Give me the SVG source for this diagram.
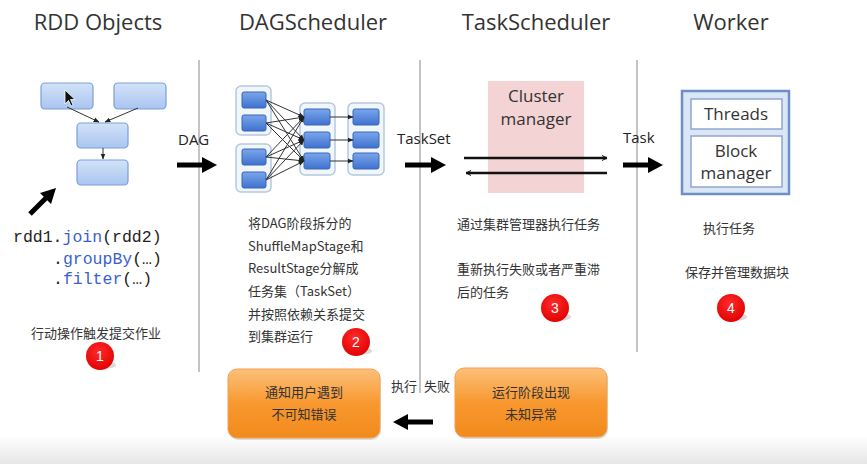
<svg xmlns="http://www.w3.org/2000/svg" width="867" height="464" viewBox="0 0 867 464">
<defs>
<linearGradient id="bg" x1="0" y1="0" x2="0" y2="1"><stop offset="0" stop-color="#ffffff"/><stop offset="1" stop-color="#e6e6e6"/></linearGradient>
<linearGradient id="lb" x1="0" y1="0" x2="0" y2="1"><stop offset="0" stop-color="#d3e2f8"/><stop offset="1" stop-color="#a9c5f0"/></linearGradient>
<linearGradient id="db" x1="0" y1="0" x2="0" y2="1"><stop offset="0" stop-color="#7aa6ea"/><stop offset="1" stop-color="#3f72cf"/></linearGradient>
<linearGradient id="og" x1="0" y1="0" x2="0" y2="1"><stop offset="0" stop-color="#fcc07a"/><stop offset="0.5" stop-color="#f8982f"/><stop offset="1" stop-color="#f28a1c"/></linearGradient>
<radialGradient id="rg" cx="0.45" cy="0.35" r="0.7"><stop offset="0" stop-color="#ff2a2a"/><stop offset="1" stop-color="#e00000"/></radialGradient>
<marker id="sa" viewBox="0 0 10 10" refX="9" refY="5" markerWidth="6" markerHeight="6" orient="auto"><path d="M0,1 L10,5 L0,9 z" fill="#222"/></marker>
<marker id="oa" viewBox="0 0 12 12" refX="11" refY="6" markerWidth="6" markerHeight="6" markerUnits="userSpaceOnUse" orient="auto"><path d="M1,1 L11,6 L1,11" fill="none" stroke="#111" stroke-width="2"/></marker>
</defs>
<style>
.title{font-family:"Open Sans","Noto Sans",sans-serif;font-size:22px;fill:#333;text-anchor:middle}
.lbl{font-family:"Open Sans","Noto Sans",sans-serif;font-size:15px;fill:#222}
.cn{font-family:"Noto Sans CJK SC","Noto Sans",sans-serif;font-size:13px;fill:#333}
.cnm{font-family:"Noto Sans CJK SC","Noto Sans",sans-serif;font-size:13px;fill:#333;text-anchor:middle}
.code{font-family:"Liberation Mono","DejaVu Sans Mono",monospace;font-size:16.5px;fill:#222}
.kw{fill:#3b5fcf}
.big{font-family:"Open Sans","Noto Sans",sans-serif;font-size:17px;fill:#333;text-anchor:middle}
.vline{stroke:#c4c4c4;stroke-width:2}
.thick{stroke:#000;stroke-width:5;fill:none}
.lbox{fill:url(#lb);stroke:#7a9fd8;stroke-width:1.2}
.dbox{fill:url(#db);stroke:#3a67b8;stroke-width:1}
.grp{fill:#f1f6fb;stroke:#b5c9de;stroke-width:1.5}
.wire{stroke:#333;stroke-width:1}
.num{font-family:"Liberation Sans",Arial,sans-serif;font-size:14px;fill:#fff;text-anchor:middle}
.orange{fill:url(#og);stroke:#f0a050;stroke-width:1}
</style>
<rect x="0" y="0" width="867" height="464" fill="#fff"/>
<rect x="0" y="436" width="867" height="28" fill="url(#bg)"/>

<g id="dividers">
<line class="vline" x1="199" y1="60" x2="199" y2="372"/>
<line class="vline" x1="420" y1="60" x2="420" y2="393"/>
<line class="vline" x1="637" y1="60" x2="637" y2="352"/>
</g>

<g id="titles">
<text class="title" x="98" y="30">RDD Objects</text>
<text class="title" x="313" y="30">DAGScheduler</text>
<text class="title" x="536" y="30">TaskScheduler</text>
<text class="title" x="731" y="30">Worker</text>
</g>

<g id="rdd-objects">
<rect class="lbox" x="41" y="83" width="52" height="26" rx="4"/>
<rect class="lbox" x="114" y="83" width="52" height="26" rx="4"/>
<rect class="lbox" x="77" y="123" width="51" height="25" rx="4"/>
<rect class="lbox" x="77" y="160" width="51" height="25" rx="4"/>
<path d="M65,90 L65,104 L68.5,100.5 L71,106 L73,105 L70.5,99.5 L75,99.5 z" fill="#111" stroke="#fff" stroke-width="0.8"/>
</g>

<g id="rdd-code">
<text class="code" x="13" y="242">rdd1.<tspan class="kw">join</tspan>(rdd2)</text>
<text class="code" x="53" y="264">.<tspan class="kw">groupBy</tspan>(…)</text>
<text class="code" x="53" y="284">.<tspan class="kw">filter</tspan>(…)</text>
<text class="cn" x="31" y="338">行动操作触发提交作业</text>
</g>

<g id="dag-graph">
<rect class="grp" x="236" y="86" width="35" height="49" rx="5"/>
<rect class="grp" x="236" y="144" width="35" height="48" rx="5"/>
<rect class="grp" x="300" y="103" width="35" height="72" rx="5"/>
<rect class="grp" x="348" y="103" width="36" height="72" rx="5"/>
<rect class="dbox" x="242" y="92" width="24" height="16" rx="2"/>
<rect class="dbox" x="242" y="115" width="24" height="16" rx="2"/>
<rect class="dbox" x="242" y="149" width="24" height="16" rx="2"/>
<rect class="dbox" x="242" y="172" width="24" height="16" rx="2"/>
<rect class="dbox" x="304" y="109" width="26" height="16" rx="2"/>
<rect class="dbox" x="304" y="132" width="26" height="16" rx="2"/>
<rect class="dbox" x="304" y="153" width="26" height="16" rx="2"/>
<rect class="dbox" x="353" y="109" width="26" height="16" rx="2"/>
<rect class="dbox" x="353" y="132" width="26" height="16" rx="2"/>
<rect class="dbox" x="353" y="153" width="26" height="16" rx="2"/>
</g>

<g id="dag-text">
<text class="cn" x="248" y="228">将DAG阶段拆分的</text>
<text class="cn" x="248" y="251">ShuffleMapStage和</text>
<text class="cn" x="248" y="273">ResultStage分解成</text>
<text class="cn" x="248" y="296">任务集（TaskSet）</text>
<text class="cn" x="248" y="319">并按照依赖关系提交</text>
<text class="cn" x="248" y="341">到集群运行</text>
</g>

<g id="cluster-manager">
<rect x="488" y="81" width="96" height="112" fill="#f3d3d3"/>
<text class="big" x="536" y="102">Cluster</text>
<text class="big" x="536" y="125">manager</text>
</g>

<g id="task-text">
<text class="cn" x="457" y="229">通过集群管理器执行任务</text>
<text class="cn" x="457" y="274">重新执行失败或者严重滞</text>
<text class="cn" x="457" y="297">后的任务</text>
</g>

<g id="worker">
<rect x="682" y="91" width="107" height="103" fill="#dae5f5" stroke="#6d8fc4" stroke-width="2.5"/>
<rect x="691" y="99" width="91" height="30" fill="#fff" stroke="#8ea7cf" stroke-width="1.5"/>
<rect x="691" y="136" width="91" height="51" fill="#fff" stroke="#8ea7cf" stroke-width="1.5"/>
<text class="big" x="736" y="120">Threads</text>
<text class="big" x="736" y="157">Block</text>
<text class="big" x="736" y="179">manager</text>
</g>

<g id="worker-text">
<text class="cnm" x="729" y="233">执行任务</text>
<text class="cnm" x="737" y="277">保存并管理数据块</text>
</g>

<g id="notify-box">
<rect x="228" y="369" width="152" height="69" rx="9" fill="#000" opacity="0.12" transform="translate(1,2)"/>
<rect class="orange" x="228" y="369" width="152" height="69" rx="9"/>
<text class="cnm" x="304" y="397">通知用户遇到</text>
<text class="cnm" x="304" y="419">不可知错误</text>
</g>

<g id="exception-box">
<rect x="455" y="368" width="152" height="69" rx="9" fill="#000" opacity="0.12" transform="translate(1,2)"/>
<rect class="orange" x="455" y="368" width="152" height="69" rx="9"/>
<text class="cnm" x="531" y="397">运行阶段出现</text>
<text class="cnm" x="531" y="419">未知异常</text>
</g>

<g id="badges">
<ellipse cx="103" cy="365" rx="13" ry="4" fill="#000" opacity="0.15"/>
<circle cx="100" cy="356" r="14" fill="url(#rg)"/>
<text class="num" x="100" y="361">1</text>
<ellipse cx="359" cy="351" rx="13" ry="4" fill="#000" opacity="0.15"/>
<circle cx="356" cy="342" r="14" fill="url(#rg)"/>
<text class="num" x="356" y="347">2</text>
<ellipse cx="558" cy="317" rx="13" ry="4" fill="#000" opacity="0.15"/>
<circle cx="555" cy="308" r="14" fill="url(#rg)"/>
<text class="num" x="555" y="313">3</text>
<ellipse cx="734" cy="317" rx="13" ry="4" fill="#000" opacity="0.15"/>
<circle cx="731" cy="308" r="14" fill="url(#rg)"/>
<text class="num" x="731" y="313">4</text>
</g>

<g id="connectors">
<line class="wire" x1="67" y1="107" x2="99" y2="122" marker-end="url(#sa)"/>
<line class="wire" x1="138" y1="108" x2="105" y2="122" marker-end="url(#sa)"/>
<line class="wire" x1="103" y1="148" x2="103" y2="159" marker-end="url(#sa)"/>
<g class="wire" marker-end="url(#sa)">
<line x1="266" y1="100" x2="304" y2="117"/>
<line x1="266" y1="100" x2="304" y2="140"/>
<line x1="266" y1="100" x2="304" y2="161"/>
<line x1="266" y1="123" x2="304" y2="117"/>
<line x1="266" y1="123" x2="304" y2="140"/>
<line x1="266" y1="123" x2="304" y2="161"/>
<line x1="266" y1="157" x2="304" y2="117"/>
<line x1="266" y1="157" x2="304" y2="140"/>
<line x1="266" y1="157" x2="304" y2="161"/>
<line x1="266" y1="180" x2="304" y2="117"/>
<line x1="266" y1="180" x2="304" y2="140"/>
<line x1="266" y1="180" x2="304" y2="161"/>
<line x1="330" y1="117" x2="353" y2="117"/>
<line x1="330" y1="140" x2="353" y2="140"/>
<line x1="330" y1="161" x2="353" y2="161"/>
</g>
<path class="thick" d="M30,214 L48,196"/>
<path d="M56,188 L40,193 L51,204 z" fill="#000"/>
<text class="lbl" x="178" y="145">DAG</text>
<path class="thick" d="M177,165 L204,165"/>
<path d="M217,165 L202,157 L202,173 z" fill="#000"/>
<text class="lbl" x="397" y="144">TaskSet</text>
<path class="thick" d="M405,165 L433,165"/>
<path d="M446,165 L431,157 L431,173 z" fill="#000"/>
<text class="lbl" x="623" y="143">Task</text>
<path class="thick" d="M623,165 L649,165"/>
<path d="M663,165 L648,157 L648,173 z" fill="#000"/>
<line x1="464" y1="158" x2="607" y2="158" stroke="#111" stroke-width="2.5" marker-end="url(#oa)"/>
<line x1="607" y1="173" x2="466" y2="173" stroke="#111" stroke-width="2.5" marker-end="url(#oa)"/>
<text class="cn" x="391" y="391">执行</text>
<text class="cn" x="424" y="391">失败</text>
<path class="thick" d="M433,422 L406,422"/>
<path d="M393,422 L408,414 L408,430 z" fill="#000"/>
</g>
</svg>
